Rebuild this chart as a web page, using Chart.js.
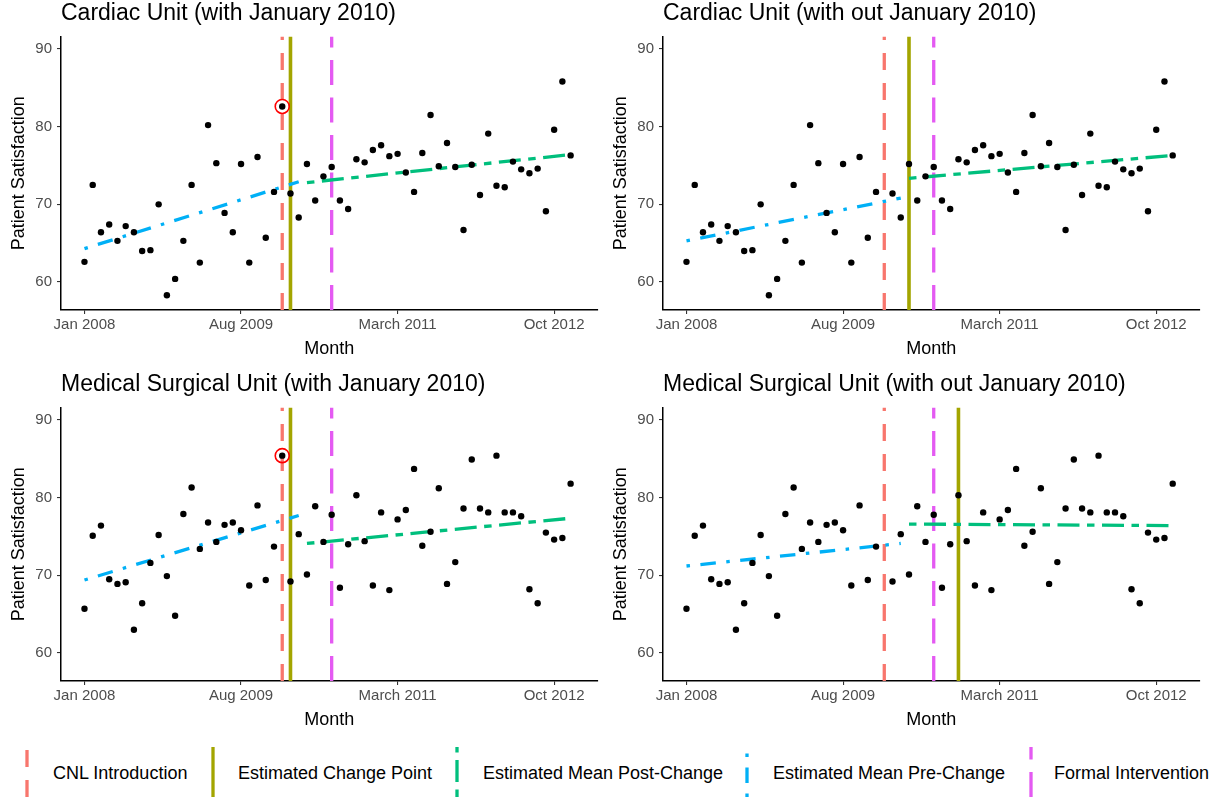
<!DOCTYPE html>
<html>
<head>
<meta charset="utf-8">
<script src="https://cdn.jsdelivr.net/npm/chart.js@4.4.1/dist/chart.umd.min.js"></script>
<style>
  body { margin: 0; background: #fff; width: 1212px; height: 799px; position: relative; overflow: hidden;
         font-family: 'Liberation Sans', Arial, Helvetica, sans-serif; }
  canvas { position: absolute; }
  #legend { position: absolute; left: 0; top: 731px; width: 1212px; height: 68px; }
  .lbl { position: absolute; font-size: 18px; line-height: 18px; color: #000; white-space: nowrap; }
</style>
</head>
<body>
<canvas id="cardiacWith" width="606" height="360" style="left:0px;top:0px"></canvas>
<canvas id="cardiacWithout" width="606" height="360" style="left:602px;top:0px"></canvas>
<canvas id="medWith" width="606" height="360" style="left:0px;top:371px"></canvas>
<canvas id="medWithout" width="606" height="360" style="left:602px;top:371px"></canvas>
<div id="legend"></div>
<script>
// months counted from Jan 2008 (0) to Dec 2012 (59)
const xTickMonths = [0, 19, 38, 57];
const xTickLabels = ['Jan 2008', 'Aug 2009', 'March 2011', 'Oct 2012'];
const yTicks = [60, 70, 80, 90];
const janMonth = 24;      // January 2010
const cnlMonth = 24;
const formalMonth = 30;
const preMonths = [0, 26];
const postMonths = [27, 59];

const cardiacSat = [
  62.6, 72.5, 66.4, 67.4, 65.3, 67.2, 66.4, 64.0, 64.1, 70.0,
  58.3, 60.4, 65.3, 72.5, 62.5, 80.2, 75.3, 68.9, 66.4, 75.2,
  62.5, 76.1, 65.7, 71.6, 82.6, 71.4, 68.3, 75.2, 70.5, 73.6,
  74.8, 70.5, 69.4, 75.8, 75.4, 77.0, 77.6, 76.2, 76.5, 74.1,
  71.6, 76.6, 81.5, 74.9, 77.9, 74.8, 66.7, 75.1, 71.2, 79.1,
  72.4, 72.2, 75.5, 74.5, 74.0, 74.6, 69.1, 79.6, 85.8, 76.3
];
const medSurgSat = [
  65.7, 75.1, 76.4, 69.5, 68.9, 69.1, 63.0, 66.4, 71.6, 75.2,
  69.9, 64.8, 77.9, 81.3, 73.4, 76.8, 74.3, 76.5, 76.8, 75.8,
  68.7, 79.0, 69.4, 73.7, 85.4, 69.2, 75.3, 70.1, 78.9, 74.3,
  77.8, 68.4, 74.0, 80.3, 74.4, 68.7, 78.1, 68.1, 77.2, 78.4,
  83.7, 73.8, 75.6, 81.2, 68.9, 71.7, 78.6, 84.9, 78.6, 78.1,
  85.4, 78.1, 78.1, 77.6, 68.2, 66.4, 75.5, 74.6, 74.8, 81.8
];

// estimated means at the start / end of each segment
const preCardiacWith = [64.3, 72.9];
const postCardiacWith = [72.8, 76.4];
const preCardiacWithout = [65.3, 70.8];
const postCardiacWithout = [73.35, 76.3];
const preMedWith = [69.4, 77.7];
const postMedWith = [74.1, 77.35];
const preMedWithout = [71.2, 74.1];
const postMedWithout = [76.6, 76.4];

const changePoints = { cardiacWith: 25, cardiacWithout: 27, medWith: 25, medWithout: 33 };

const colors = {
  cnl: '#F8766D', change: '#A3A500', post: '#00BF7D', pre: '#00B0F6', formal: '#E45AF2'
};
const dashes = {
  cnl: [17, 13], change: [], post: [7.5, 7.5, 22, 7.5], pre: [3.5, 10.5, 15.5, 10.5], formal: [25, 12.5]
};

const FONT = "'Liberation Sans', Arial, Helvetica, sans-serif";
const yMin = 56.4, yMax = 91.6;

function makePanel(id, title, sat, dropJan, pre, post) {
  const points = sat.map((v, i) => ({ x: i, y: v }))
    .filter(p => !(dropJan && p.x === janMonth));

  const vline = (m, key, order) => ({
    data: [{ x: m, y: yMin }, { x: m, y: yMax }],
    showLine: true, borderColor: colors[key], borderWidth: key === 'change' ? 3.6 : 3.3,
    borderDash: dashes[key], pointRadius: 0, order: order
  });
  const meanLine = (months, vals, key, order) => ({
    data: [{ x: months[0], y: vals[0] }, { x: months[1], y: vals[1] }],
    showLine: true, borderColor: colors[key], borderWidth: 3.3,
    borderDash: dashes[key], pointRadius: 0, order: order
  });

  const datasets = [
    { data: points, pointRadius: 3.2, pointBackgroundColor: '#000', pointBorderWidth: 0, order: 1 },
    meanLine(preMonths, pre, 'pre', 2),
    meanLine(postMonths, post, 'post', 3),
    vline(changePoints[id], 'change', 4),
    vline(cnlMonth, 'cnl', 5),
    vline(formalMonth, 'formal', 6)
  ];
  if (!dropJan) {
    datasets.push({
      data: [{ x: janMonth, y: sat[janMonth] }], pointRadius: 7, pointBackgroundColor: 'rgba(0,0,0,0)',
      pointBorderColor: '#FF0000', pointBorderWidth: 1.6, order: 0
    });
  }

  new Chart(document.getElementById(id), {
    type: 'scatter',
    data: { datasets: datasets },
    options: {
      responsive: false,
      animation: false,
      devicePixelRatio: 1,
      layout: { padding: { left: 0, right: 8.5, top: 0, bottom: 0 } },
      plugins: {
        legend: { display: false },
        tooltip: { enabled: false },
        title: {
          display: true, text: title, align: 'start', fullSize: false, color: '#000',
          font: { family: FONT, size: 23, weight: 'normal' }, padding: { top: 0, bottom: 8.9 }
        }
      },
      scales: {
        x: {
          type: 'linear', min: -2.85, max: 62.25,
          afterBuildTicks: s => { s.ticks = xTickMonths.map(v => ({ value: v })); },
          afterFit: s => { s.height = 50; },
          ticks: {
            callback: v => xTickLabels[xTickMonths.indexOf(v)],
            color: '#4D4D4D', font: { family: FONT, size: 15 }, padding: 2, maxRotation: 0, autoSkip: false
          },
          grid: { drawOnChartArea: false, tickLength: 4, color: '#333', lineWidth: 1.1 },
          border: { color: '#000', width: 1.5 },
          title: { display: true, text: 'Month', color: '#000', font: { family: FONT, size: 18 }, padding: { top: 3, bottom: 0 } }
        },
        y: {
          min: yMin, max: yMax,
          afterBuildTicks: s => { s.ticks = yTicks.map(v => ({ value: v })); },
          afterFit: s => { s.width = 61; },
          ticks: { color: '#4D4D4D', font: { family: FONT, size: 15 }, padding: 5 },
          grid: { drawOnChartArea: false, tickLength: 4, color: '#333', lineWidth: 1.1 },
          border: { color: '#000', width: 1.5 },
          title: { display: true, text: 'Patient Satisfaction', color: '#000', font: { family: FONT, size: 18 }, padding: { top: 8, bottom: 0 } }
        }
      }
    }
  });
}

makePanel('cardiacWith', 'Cardiac Unit (with January 2010)', cardiacSat, false, preCardiacWith, postCardiacWith);
makePanel('cardiacWithout', 'Cardiac Unit (with out January 2010)', cardiacSat, true, preCardiacWithout, postCardiacWithout);
makePanel('medWith', 'Medical Surgical Unit (with January 2010)', medSurgSat, false, preMedWith, postMedWith);
makePanel('medWithout', 'Medical Surgical Unit (with out January 2010)', medSurgSat, true, preMedWithout, postMedWithout);

// shared legend
const legendItems = [
  { key: 'cnl', label: 'CNL Introduction', x: 27, tx: 53 },
  { key: 'change', label: 'Estimated Change Point', x: 213, tx: 238 },
  { key: 'post', label: 'Estimated Mean Post-Change', x: 457, tx: 483 },
  { key: 'pre', label: 'Estimated Mean Pre-Change', x: 747, tx: 773 },
  { key: 'formal', label: 'Formal Intervention', x: 1031, tx: 1054 }
];
const legend = document.getElementById('legend');
let svg = '<svg width="1212" height="68" style="position:absolute;left:0;top:0">';
legendItems.forEach(it => {
  const d = dashes[it.key].length ? ` stroke-dasharray="${dashes[it.key].join(' ')}"` : '';
  svg += `<line x1="${it.x}" y1="66" x2="${it.x}" y2="16" stroke="${colors[it.key]}" stroke-width="3.3"${d}/>`;
});
svg += '</svg>';
legend.innerHTML = svg + legendItems.map(it =>
  `<div class="lbl" style="left:${it.tx}px;top:33px">${it.label}</div>`).join('');
</script>
</body>
</html>
